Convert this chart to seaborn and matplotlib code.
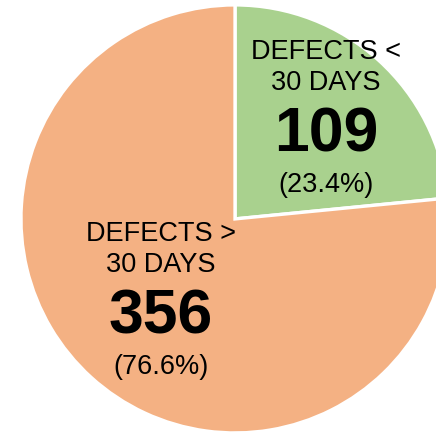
import numpy as np
import seaborn as sns
import matplotlib.pyplot as plt

# Data
categories = ['DEFECTS <\n30 DAYS', 'DEFECTS >\n30 DAYS']
counts = [109, 356]
colors = ['#A9D18E', '#F4B183']
# how far out along each wedge's bisector the label block sits (fraction of radius)
label_radius = [0.632, 0.516]

sns.set_style('white')
plt.rcParams['font.family'] = ['Liberation Sans', 'DejaVu Sans']

fig = plt.figure(figsize=(4.36, 4.34), dpi=100)
ax = fig.add_axes([0, 0, 1, 1])

wedges, _ = ax.pie(counts, colors=colors, startangle=90, counterclock=False,
                   wedgeprops=dict(edgecolor='white', linewidth=2.4))

total = sum(counts)
for w, cat, n, r in zip(wedges, categories, counts, label_radius):
    ang = np.deg2rad((w.theta1 + w.theta2) / 2)
    x, y = r * np.cos(ang), r * np.sin(ang)
    line1, line2 = cat.split('\n')
    # (text, vertical offset in px, size, weight)
    parts = [(line1, 67, 19.5, 'normal'),
             (line2, 36, 19.5, 'normal'),
             (str(n), -16, 45, 'bold'),
             ('({:.1f}%)'.format(100 * n / total), -66.5, 19.5, 'normal')]
    for txt, dy, size, weight in parts:
        ax.annotate(txt, (x, y), xytext=(0, dy * 0.72), textcoords='offset points',
                    ha='center', va='center', fontsize=size, fontweight=weight,
                    color='black')

# pie is cropped on the right side in the original
ax.set_xlim(-1.098, 0.939)
ax.set_ylim(-1.005, 1.023)
ax.set_aspect('auto')
ax.axis('off')

fig.savefig('out.png', dpi=100, facecolor='white')
